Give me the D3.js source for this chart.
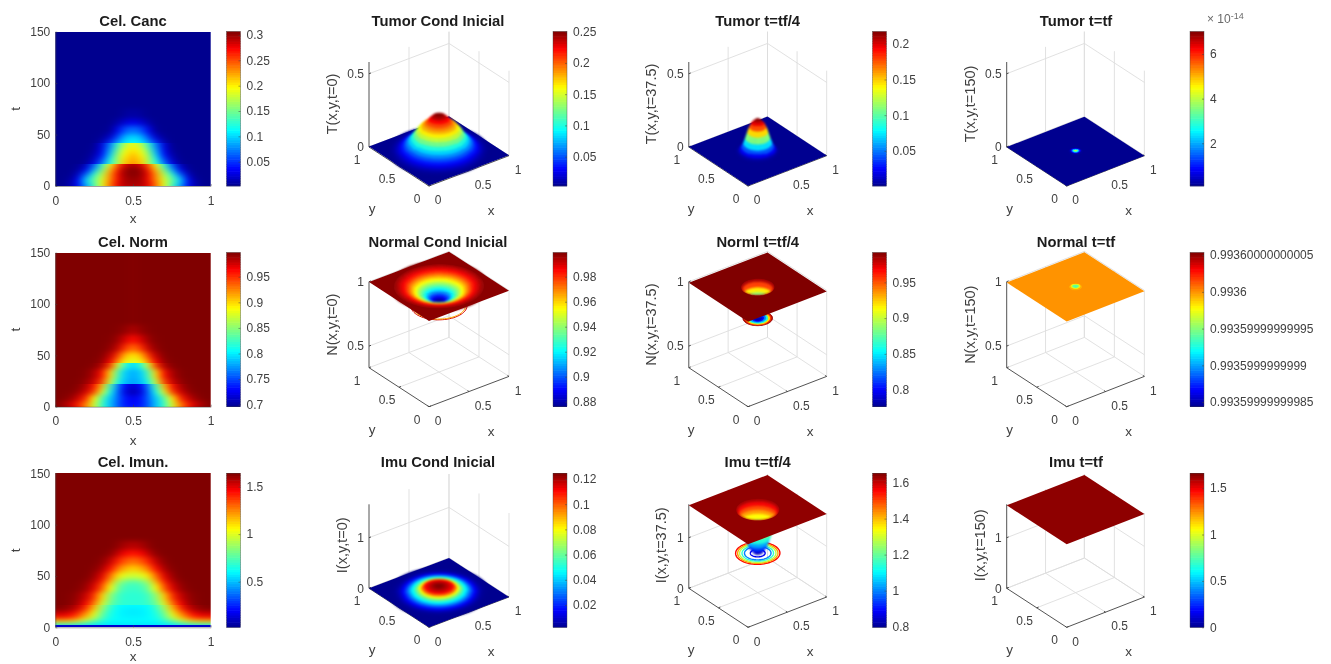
<!DOCTYPE html>
<html>
<head>
<meta charset="utf-8">
<script src="https://d3js.org/d3.v7.min.js"></script>
<style>
  html, body { margin: 0; padding: 0; background: #fff; overflow: hidden; }
  text { font-family: "Liberation Sans", Arial, sans-serif; }
  svg { filter: blur(0.35px); }
</style>
</head>
<body>
<svg id="chart" width="1331" height="664" viewBox="0 0 1331 664"></svg>
<script>
// left hand heat maps, x from 0 to 0.5, the other half is the mirror
const heat_x = [0, .05, .1, .15, .2, .25, .3, .35, .4, .45, .5];

const canc_t = [0, 3, 7, 12, 17, 20, 21, 25, 30, 35, 41, 42, 48, 55, 62, 70, 80];
const canc_bands = [0, 21, 42, 150];
const canc_rows = [
  [0, .002, .012, .035, .08, .13, .19, .24, .275, .29, .29],
  [0, .002, .012, .04, .095, .14, .19, .24, .278, .297, .297],
  [0, .001, .008, .035, .1, .145, .185, .23, .27, .295, .3],
  [0, 0, .003, .02, .065, .125, .175, .23, .275, .3, .305],
  [0, 0, 0, .007, .03, .085, .15, .215, .265, .298, .306],
  [0, 0, 0, .003, .015, .06, .125, .19, .245, .28, .295],
  [0, 0, 0, 0, .007, .035, .08, .125, .17, .215, .235],
  [0, 0, 0, 0, .004, .02, .06, .12, .17, .21, .225],
  [0, 0, 0, 0, 0, .012, .04, .1, .165, .2, .22],
  [0, 0, 0, 0, 0, .006, .03, .085, .145, .19, .205],
  [0, 0, 0, 0, 0, .003, .025, .07, .125, .17, .19],
  [0, 0, 0, 0, 0, .002, .015, .05, .085, .105, .115],
  [0, 0, 0, 0, 0, 0, .005, .02, .055, .09, .1],
  [0, 0, 0, 0, 0, 0, 0, .005, .03, .06, .07],
  [0, 0, 0, 0, 0, 0, 0, .002, .01, .022, .03],
  [0, 0, 0, 0, 0, 0, 0, 0, .002, .006, .009],
  [0, 0, 0, 0, 0, 0, 0, 0, 0, 0, 0]
];

const norm_t = [0, 3, 8, 15, 21, 22, 32, 42, 43, 50, 58, 66, 75, 85];
const norm_bands = [0, 22, 43, 150];
const norm_rows = [
  [.997, .995, .985, .96, .93, .88, .825, .79, .76, .74, .735],
  [.995, .985, .97, .95, .92, .87, .82, .785, .755, .735, .73],
  [.997, .996, .99, .975, .95, .89, .83, .79, .76, .735, .725],
  [.997, .997, .996, .99, .975, .945, .88, .81, .76, .72, .705],
  [.997, .997, .997, .995, .985, .96, .91, .83, .77, .73, .715],
  [.997, .997, .997, .996, .99, .975, .94, .87, .81, .785, .775],
  [.997, .997, .997, .997, .995, .985, .96, .9, .83, .79, .78],
  [.997, .997, .997, .997, .997, .995, .985, .95, .88, .82, .795],
  [.997, .997, .997, .997, .997, .996, .99, .965, .92, .885, .875],
  [.997, .997, .997, .997, .997, .997, .995, .98, .95, .91, .895],
  [.997, .997, .997, .997, .997, .997, .997, .992, .98, .95, .93],
  [.997, .997, .997, .997, .997, .997, .997, .996, .99, .975, .96],
  [.997, .997, .997, .997, .997, .997, .997, .997, .996, .992, .985],
  [.997, .997, .997, .997, .997, .997, .997, .997, .997, .997, .996]
];

const imun_t = [0, 2, 5, 8, 12, 18, 21, 22, 30, 40, 45, 50, 58, 65, 72, 80, 90];
const imun_bands = [0, 2, 22, 150];
const imun_rows = [
  [.12, .12, .12, .12, .12, .12, .12, .12, .12, .12, .12],
  [.55, .55, .55, .55, .55, .55, .55, .55, .55, .55, .55],
  [1, 1, .98, .9, .8, .7, .65, .6, .6, .6, .6],
  [1.3, 1.3, 1.25, 1.15, 1, .85, .7, .62, .6, .6, .6],
  [1.5, 1.5, 1.45, 1.35, 1.2, 1, .78, .65, .6, .58, .58],
  [1.62, 1.62, 1.58, 1.5, 1.35, 1.12, .85, .68, .6, .58, .57],
  [1.64, 1.63, 1.6, 1.55, 1.42, 1.2, .92, .72, .62, .6, .6],
  [1.64, 1.64, 1.62, 1.57, 1.45, 1.25, .98, .78, .7, .68, .68],
  [1.64, 1.64, 1.63, 1.6, 1.53, 1.38, 1.12, .85, .72, .68, .68],
  [1.64, 1.64, 1.64, 1.63, 1.6, 1.5, 1.32, 1.05, .8, .72, .7],
  [1.64, 1.64, 1.64, 1.64, 1.62, 1.56, 1.42, 1.18, .92, .8, .76],
  [1.64, 1.64, 1.64, 1.64, 1.64, 1.6, 1.5, 1.3, 1.1, 1, .97],
  [1.64, 1.64, 1.64, 1.64, 1.64, 1.63, 1.58, 1.45, 1.28, 1.18, 1.13],
  [1.64, 1.64, 1.64, 1.64, 1.64, 1.64, 1.62, 1.55, 1.42, 1.33, 1.28],
  [1.64, 1.64, 1.64, 1.64, 1.64, 1.64, 1.64, 1.62, 1.55, 1.47, 1.43],
  [1.64, 1.64, 1.64, 1.64, 1.64, 1.64, 1.64, 1.64, 1.62, 1.58, 1.56],
  [1.64, 1.64, 1.64, 1.64, 1.64, 1.64, 1.64, 1.64, 1.64, 1.64, 1.64]
];

// radial profiles of the surfaces, radius around the middle of the square and height there
const r_quarter = [0, .025, .05, .075, .1, .125, .15, .175, .2, .225, .25, .275, .3, .325, .35, .375, .4, .425, .45, .475, .5];
const n0_r = [0, .025, .05, .075, .1, .125, .15, .175, .2, .225, .25, .275, .3, .325, .35, .375, .4, .425, .45];

const t0_v = [.25, .248, .243, .232, .215, .198, .185, .172, .155, .135, .112, .09, .072, .056, .042, .03, .02, .013, .008, .005, .003];
const n0_v = [.876, .878, .883, .892, .902, .914, .925, .934, .942, .95, .958, .966, .973, .979, .985, .989, .992, .995, .998];
const i0_v = [.1245, .124, .122, .119, .116, .112, .107, .088, .072, .06, .05, .042, .033, .024, .017, .011, .007, .004, .003, .0025, .0023];

const t1_r = [0, .02, .04, .06, .08, .1, .12, .14, .16, .18, .2, .22];
const t1_v = [.217, .214, .205, .19, .165, .13, .09, .055, .03, .012, .004, .001];
const n1_r = [0, .04, .08, .1, .12, .13, .14, .15, .16, .17];
const n1_v = [.776, .78, .79, .82, .85, .87, .9, .935, .975, .9915];
const i1_r = [0, .04, .06, .08, .1, .12, .14, .16, .18, .19, .2, .21, .22];
const i1_v = [.8, .8, .84, .9, .98, 1.08, 1.2, 1.3, 1.39, 1.46, 1.53, 1.6, 1.64];

// last time step: the sheet is flat, only the colour changes
const t2_r = [0, .01, .02, .03, .04, .05, .06, .07];
const t2_c = [4, 3.8, 3, 2, 1.2, .5, .2, .085];
const n2_r = [0, .02, .03, .04, .05, .06];
const n2_c = [-.6, -.6, -.5, -.3, -.1, 0];

// thin rings which hang below the sheet
const n0_ring_r = [.28, .265];
const n0_ring_v = [.99, .965];
const n1_ring_r = [.15, .135, .12, .1, .08, .06, .04, .02];
const n1_ring_v = [.985, .955, .92, .86, .83, .8, .785, .78];
const i1_ring_r = [.225, .205, .185, .16, .135, .075];
const i1_ring_v = [1.55, 1.42, 1.28, 1.15, 1, .88];

// colour bar limits and ticks
const canc_dom = [.002, .3065], canc_ticks = [.05, .1, .15, .2, .25, .3];
const norm_dom = [.696, .997], norm_ticks = [.7, .75, .8, .85, .9, .95];
const imun_dom = [.02, 1.64], imun_ticks = [.5, 1, 1.5];
const t0_dom = [.003, .25], t0_ticks = [.05, .1, .15, .2, .25];
const n0_dom = [.876, .9992], n0_ticks = [.88, .9, .92, .94, .96, .98];
const i0_dom = [.0023, .1245], i0_ticks = [.02, .04, .06, .08, .1, .12];
const t1_dom = [.0007, .217], t1_ticks = [.05, .1, .15, .2];
const n1_dom = [.776, .9915], n1_ticks = [.8, .85, .9, .95];
const i1_dom = [.796, 1.652], i1_ticks = [.8, 1, 1.2, 1.4, 1.6];
const t2_dom = [.085, 7], t2_ticks = [2, 4, 6];
const n2_dom = [-1.563, .533], n2_ticks = [-1.5, -1, -.5, 0, .5];
const n2_labels = ["0.99359999999985", "0.9935999999999", "0.99359999999995", "0.9936", "0.99360000000005"];
const i2_dom = [0, 1.66], i2_ticks = [0, .5, 1, 1.5];

const text_col = "#404040", title_col = "#1c1c1c", axis_col = "#404040", grid_col = "#dedede";

const svg = d3.select("#chart");
const defs = svg.append("defs");

defs.append("filter").attr("id", "soft").attr("x", "-10%").attr("y", "-20%").attr("width", "120%").attr("height", "140%")
    .attr("color-interpolation-filters", "sRGB")
    .append("feGaussianBlur").attr("stdDeviation", "4 2.4");
defs.append("filter").attr("id", "soft3d").attr("x", "-10%").attr("y", "-10%").attr("width", "120%").attr("height", "120%")
    .attr("color-interpolation-filters", "sRGB")
    .append("feGaussianBlur").attr("stdDeviation", "0.9");

const jet_base = d3.scaleLinear()
    .domain([0, .11, .36, .64, .89, 1])
    .range(["#00008f", "#0000ff", "#00ffff", "#ffff00", "#ff0000", "#800000"])
    .clamp(true);

function jet(dom) {
    const norm = d3.scaleLinear().domain(dom).range([0, 1]);
    return v => jet_base(norm(v));
}

// row tops and bottoms of the three rows of panels
const row_top = [31.7, 252.7, 473.3];
const row_bot = [186, 406.7, 627.3];
const title_y = [21, 241.7, 462.3];
const xlab_dy = [37, 38, 33.5];
const col_x0 = [429, 748, 1066.7];
const col_dx = [80, 78.7, 77.7];
const col_dy = [60, 59.2, 60];
const bar_x = [226.5, 553, 872.5, 1190];
const title_x = [133, 438, 757.7, 1076];

function colorbar(col, row, dom, ticks, labels) {
    const x0 = bar_x[col], w = 14;
    const y = d3.scaleLinear().domain(dom).range([row_bot[row], row_top[row]]);
    const c = jet(dom);
    const g = svg.append("g");
    const levels = d3.range(64).map(i => dom[0] + (dom[1] - dom[0]) * (i + .5) / 64);
    const h = (row_bot[row] - row_top[row]) / 64;
    g.selectAll("rect").data(levels).enter().append("rect")
        .attr("x", x0).attr("width", w)
        .attr("y", d => y(d) - h / 2 - .3).attr("height", h + .6)
        .attr("fill", d => c(d));
    const axis = d3.axisRight(y).tickValues(ticks).tickSizeInner(-2).tickSizeOuter(0).tickPadding(6)
        .tickFormat(labels ? ((d, i) => labels[i]) : d3.format("~g"));
    const a = g.append("g").attr("transform", `translate(${x0 + w},0)`).call(axis);
    a.select(".domain").attr("stroke", "none");
    a.selectAll("line").attr("stroke", axis_col).attr("stroke-width", .5);
    a.selectAll("text").attr("fill", text_col).style("font-size", "12px").style("font-family", "Liberation Sans");
    g.append("rect").attr("x", x0).attr("y", row_top[row]).attr("width", w).attr("height", row_bot[row] - row_top[row])
        .attr("fill", "none").attr("stroke", axis_col).attr("stroke-width", .4);
}

function title(col, row, s) {
    svg.append("text").attr("x", title_x[col]).attr("y", title_y[row] + 4.8).attr("text-anchor", "middle")
        .attr("fill", title_col).style("font-size", "14.8px").style("font-weight", "bold").text(s);
}

function heatmap(row, name, tvals, bands, rows, dom, ticks) {
    const x = d3.scaleLinear().domain([0, 1]).range([55.3, 210.7]);
    const y = d3.scaleLinear().domain([0, 150]).range([row_bot[row], row_top[row]]);
    const c = jet(dom);
    const half = .025;
    const xs = heat_x.concat(heat_x.slice(0, -1).reverse().map(d => 1 - d));

    // each time band is smoothed on its own, the jumps between bands stay sharp
    d3.pairs(bands).forEach(([lo, hi], b) => {
        const clip = `clip_${row}_${b}`;
        // whole pixels so that no light seam shows between two bands
        const clip_top = Math.round(y(hi)), clip_bot = Math.round(y(lo));
        defs.append("clipPath").attr("id", clip).append("rect")
            .attr("x", 55.3).attr("y", clip_top).attr("width", 155.4).attr("height", clip_bot - clip_top);
        const g = svg.append("g").attr("clip-path", `url(#${clip})`)
            .append("g").attr("filter", "url(#soft)");
        const idx = d3.range(tvals.length).filter(i => tvals[i] >= lo && tvals[i] < hi);
        idx.forEach((i, k) => {
            const r = rows[i];
            const full = r.concat(r.slice(0, -1).reverse());
            const y_low = k == 0 ? y(lo) + 25 : y((tvals[i - 1] + tvals[i]) / 2);
            const y_high = k == idx.length - 1 ? y(hi) - 25 : y((tvals[i] + tvals[i + 1]) / 2);
            g.selectAll(null).data(full).enter().append("rect")
                .attr("shape-rendering", "crispEdges")
                .attr("x", (d, j) => j == 0 ? x(0) - 25 : x(xs[j] - half))
                .attr("width", (d, j) => (j == 0 || j == full.length - 1) ? x(half) - x(0) + 25 : x(half * 2) - x(0) + 1)
                .attr("y", y_high - .5)
                .attr("height", y_low - y_high + 1)
                .attr("fill", d => c(d));
        });
    });

    const ax = d3.axisBottom(x).tickValues([0, .5, 1]).tickFormat(d3.format("~g"))
        .tickSizeInner(-2).tickSizeOuter(0).tickPadding(10);
    const ay = d3.axisLeft(y).tickValues([0, 50, 100, 150]).tickSizeInner(-2).tickSizeOuter(0).tickPadding(5);
    const a1 = svg.append("g").attr("transform", `translate(0,${row_bot[row]})`).call(ax);
    const a2 = svg.append("g").attr("transform", "translate(55.3,0)").call(ay);
    [a1, a2].forEach(a => {
        a.selectAll("path,line").attr("stroke", axis_col).attr("stroke-width", .5);
        a.selectAll("text").attr("fill", text_col).style("font-size", "12px").style("font-family", "Liberation Sans");
    });
    svg.append("text").attr("x", 133).attr("y", row_bot[row] + xlab_dy[row]).attr("text-anchor", "middle")
        .attr("fill", text_col).style("font-size", "13.5px").text("x");
    svg.append("text").attr("transform", `translate(20,${(row_bot[row] + row_top[row]) / 2}) rotate(-90)`).attr("text-anchor", "middle")
        .attr("fill", text_col).style("font-size", "13.5px").text("t");
    title(0, row, name);
    colorbar(0, row, dom, ticks);
}

function surface3d(p) {
    const ox = col_x0[p.col], oy = row_bot[p.row], dx = col_dx[p.col], dy = col_dy[p.col];
    const hz = d3.scaleLinear().domain([p.zlo, p.zhi]).range([0, p.zpx]);
    const proj = (x, y, z) => [ox + dx * x - dy * y, oy - 30.3 * x - 39 * y - hz(z)];
    const line = d3.line();
    const c = jet(p.dom);
    const g = svg.append("g");

    // back walls and floor
    const grid = [];
    p.zticks.forEach(z => {
        grid.push([proj(0, 1, z), proj(1, 1, z)]);
        grid.push([proj(1, 1, z), proj(1, 0, z)]);
    });
    [.5, 1].forEach(t => {
        grid.push([proj(t, 1, p.zlo), proj(t, 1, p.zhi)]);
        grid.push([proj(1, t, p.zlo), proj(1, t, p.zhi)]);
        grid.push([proj(t, 0, p.zlo), proj(t, 1, p.zlo)]);
        grid.push([proj(0, t, p.zlo), proj(1, t, p.zlo)]);
    });
    grid.push([proj(1, 0, p.zlo), proj(1, 0, p.zhi)]);
    g.selectAll(".grid").data(grid).enter().append("path").attr("class", "grid")
        .attr("d", line).attr("fill", "none").attr("stroke", grid_col).attr("stroke-width", .9);

    // axis lines
    const axes = [
        [proj(0, 0, p.zlo), proj(1, 0, p.zlo)],
        [proj(0, 0, p.zlo), proj(0, 1, p.zlo)],
        [proj(0, 1, p.zlo), proj(0, 1, p.zhi)]
    ];
    [0, .5, 1].forEach(t => {
        axes.push([proj(t, 0, p.zlo), proj(t, .025, p.zlo)]);
        axes.push([proj(0, t, p.zlo), proj(.025, t, p.zlo)]);
    });
    p.zticks.forEach(z => axes.push([proj(0, 1, z), proj(.025, 1, z)]));
    g.selectAll(".ax").data(axes).enter().append("path").attr("class", "ax")
        .attr("d", line).attr("fill", "none").attr("stroke", axis_col).attr("stroke-width", .9);

    const circle = (r, z) => d3.range(72).map(i => {
        const a = i / 72 * 2 * Math.PI;
        return proj(.5 + r * Math.cos(a), .5 + r * Math.sin(a), z);
    });

    const sheet = p.vals ? p.vals[p.vals.length - 1] : p.flat;
    const sheet_col = c(p.cols ? p.cols[p.cols.length - 1] : sheet);
    const hole = p.radii && p.dip ? p.radii[p.radii.length - 1] : 0;
    const sheet_d = () => {
        let d = line([proj(0, 0, sheet), proj(1, 0, sheet), proj(1, 1, sheet), proj(0, 1, sheet)]) + "Z";
        if (hole > 0) d += line(circle(hole, sheet)) + "Z";
        return d;
    };
    const draw_sheet = () => g.append("path").attr("d", sheet_d()).attr("fill", sheet_col).attr("fill-rule", "evenodd");

    const draw_rings = () => {
        if (!p.ring_r) return;
        g.selectAll(".ring").data(p.ring_r).enter().append("path").attr("class", "ring")
            .attr("d", d => line(circle(d, p.ring_z)) + "Z")
            .attr("fill", p.ring_fill ? ((d, i) => c(p.ring_v[i])) : "none")
            .attr("stroke", (d, i) => c(p.ring_v[i])).attr("stroke-width", p.ring_w);
    };

    const draw_quads = () => {
        if (!p.radii) return;
        const quads = [];
        const n = 60;
        for (let i = 0; i + 1 < p.radii.length; i++) {
            const r0 = p.radii[i], r1 = p.radii[i + 1];
            const z0 = p.vals ? p.vals[i] : p.flat, z1 = p.vals ? p.vals[i + 1] : p.flat;
            const v = p.cols ? (p.cols[i] + p.cols[i + 1]) / 2 : (z0 + z1) / 2;
            for (let k = 0; k < n; k++) {
                const a0 = k / n * 2 * Math.PI, a1 = (k + 1) / n * 2 * Math.PI, am = (a0 + a1) / 2, rm = (r0 + r1) / 2;
                const pts = [
                    proj(.5 + r0 * Math.cos(a0), .5 + r0 * Math.sin(a0), z0),
                    proj(.5 + r1 * Math.cos(a0), .5 + r1 * Math.sin(a0), z1),
                    proj(.5 + r1 * Math.cos(a1), .5 + r1 * Math.sin(a1), z1),
                    proj(.5 + r0 * Math.cos(a1), .5 + r0 * Math.sin(a1), z0)
                ];
                const along = .6 * rm * Math.cos(am) + .8 * rm * Math.sin(am);
                const depth = .87 * 100 * along - .494 * hz((z0 + z1) / 2);
                quads.push({ pts: pts, v: v, depth: depth });
            }
        }
        quads.sort((a, b) => b.depth - a.depth);
        const sg = g.append("g");
        // the small dots of the last time step would vanish when blurred
        if (!p.cols) sg.attr("filter", "url(#soft3d)");
        // under the blurred rim of a hole, so the edge does not fade to white
        if (p.dip) {
            sg.append("path").attr("d", line(circle(hole + .02, sheet)) + "Z")
                .attr("fill", "none").attr("stroke", sheet_col).attr("stroke-width", 4);
        }
        sg.selectAll(".quad").data(quads).enter().append("path").attr("class", "quad")
            .attr("d", d => line(d.pts) + "Z")
            .attr("fill", d => c(d.v)).attr("stroke", d => c(d.v)).attr("stroke-width", .7);
    };

    if (p.dip) {
        draw_rings();
        draw_quads();
        draw_sheet();
    } else {
        draw_sheet();
        draw_quads();
    }

    // tick labels
    const tick_text = (pt, s, anchor) => g.append("text").attr("x", pt[0]).attr("y", pt[1] + 4.3)
        .attr("text-anchor", anchor).attr("fill", text_col).style("font-size", "12px").text(s);
    const fmt = d3.format("~g");
    [0, .5, 1].forEach(t => {
        const a = proj(t, 0, p.zlo), b = proj(0, t, p.zlo);
        tick_text([a[0] + (t == .5 ? 14 : 9), a[1] + 14], fmt(t), "middle");
        tick_text([b[0] - 12, b[1] + 12.5], fmt(t), "middle");
    });
    p.zticks.forEach(z => {
        const a = proj(0, 1, z);
        tick_text([a[0] - 5, a[1]], fmt(z), "end");
    });

    g.append("text").attr("x", ox + 62).attr("y", oy + 29).attr("text-anchor", "middle")
        .attr("fill", text_col).style("font-size", "13.5px").text("x");
    g.append("text").attr("x", ox - 57).attr("y", oy + 27).attr("text-anchor", "middle")
        .attr("fill", text_col).style("font-size", "13.5px").text("y");
    g.append("text").attr("transform", `translate(${ox + p.lab_x},${oy - 82}) rotate(-90)`).attr("text-anchor", "middle")
        .attr("fill", text_col).style("font-size", "14.5px").text(p.zlabel);

    title(p.col + 1, p.row, p.title);
    colorbar(p.col + 1, p.row, p.dom, p.ticks, p.labels);
}

heatmap(0, "Cel. Canc", canc_t, canc_bands, canc_rows, canc_dom, canc_ticks);
heatmap(1, "Cel. Norm", norm_t, norm_bands, norm_rows, norm_dom, norm_ticks);
heatmap(2, "Cel. Imun.", imun_t, imun_bands, imun_rows, imun_dom, imun_ticks);

const t_axis = { zlo: 0, zhi: .58, zpx: 85, zticks: [0, .5], lab_x: -92 };
const n_axis = { zlo: .332, zhi: 1, zpx: 86, zticks: [.5, 1], lab_x: -92 };
const i_axis = { zlo: 0, zhi: 1.66, zpx: 84, zticks: [0, 1], lab_x: -82 };

const panels = [
  { ...t_axis, row: 0, col: 0, title: "Tumor Cond Inicial", zlabel: "T(x,y,t=0)", dom: t0_dom, ticks: t0_ticks, radii: r_quarter, vals: t0_v },
  { ...t_axis, row: 0, col: 1, title: "Tumor t=tf/4", zlabel: "T(x,y,t=37.5)", dom: t1_dom, ticks: t1_ticks, radii: t1_r, vals: t1_v },
  { ...t_axis, row: 0, col: 2, title: "Tumor t=tf", zlabel: "T(x,y,t=150)", dom: t2_dom, ticks: t2_ticks, radii: t2_r, flat: 0, cols: t2_c },
  { ...n_axis, row: 1, col: 0, title: "Normal Cond Inicial", zlabel: "N(x,y,t=0)", dom: n0_dom, ticks: n0_ticks, radii: n0_r, vals: n0_v, dip: true, ring_r: n0_ring_r, ring_v: n0_ring_v, ring_z: .845, ring_w: 1 },
  { ...n_axis, row: 1, col: 1, title: "Norml t=tf/4", zlabel: "N(x,y,t=37.5)", dom: n1_dom, ticks: n1_ticks, radii: n1_r, vals: n1_v, dip: true, ring_r: n1_ring_r, ring_v: n1_ring_v, ring_z: .75, ring_fill: true, ring_w: 1 },
  { ...n_axis, row: 1, col: 2, title: "Normal t=tf", zlabel: "N(x,y,t=150)", dom: n2_dom, ticks: n2_ticks, labels: n2_labels, radii: n2_r, flat: .9936, cols: n2_c },
  { ...i_axis, row: 2, col: 0, title: "Imu Cond Inicial", zlabel: "I(x,y,t=0)", dom: i0_dom, ticks: i0_ticks, radii: r_quarter, vals: i0_v },
  { ...i_axis, row: 2, col: 1, title: "Imu t=tf/4", zlabel: "I(x,y,t=37.5)", dom: i1_dom, ticks: i1_ticks, radii: i1_r, vals: i1_v, dip: true, ring_r: i1_ring_r, ring_v: i1_ring_v, ring_z: .78, ring_w: 1.4 },
  { ...i_axis, row: 2, col: 2, title: "Imu t=tf", zlabel: "I(x,y,t=150)", dom: i2_dom, ticks: i2_ticks, flat: 1.64 }
];
panels.forEach(surface3d);

// exponent above the last colour bar of the first row
const exponent = svg.append("text").attr("x", 1207).attr("y", 23).attr("fill", "#6a6a6a").style("font-size", "12px");
exponent.append("tspan").text("× 10");
exponent.append("tspan").attr("dy", -4).style("font-size", "9px").text("-14");
</script>
</body>
</html>
